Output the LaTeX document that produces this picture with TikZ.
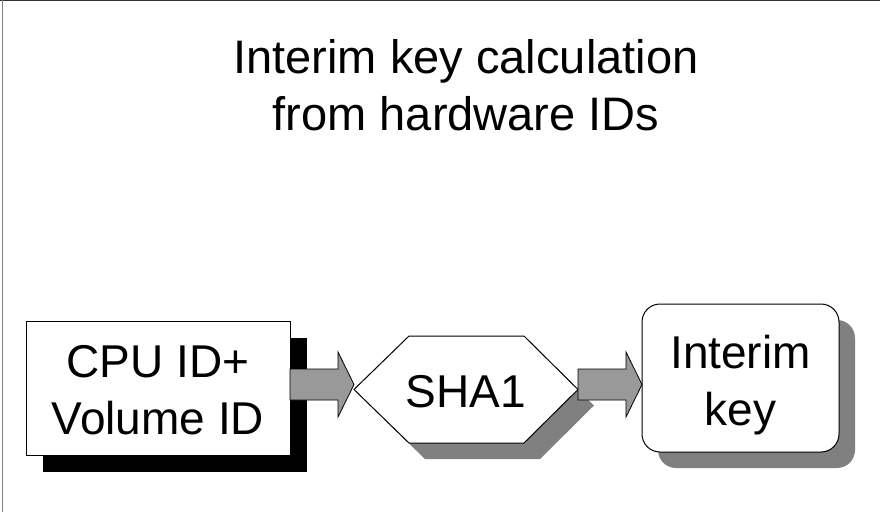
\documentclass[tikz,border=0pt]{standalone}
\usepackage{fontspec}
\setmainfont{Liberation Sans}
\usetikzlibrary{shadows}
\begin{document}
\begin{tikzpicture}[x=1pt,y=-1pt,
  titletext/.style={inner sep=0pt, anchor=base, font=\fontsize{47}{56}\selectfont},
  boxtext/.style={inner sep=0pt, anchor=base, font=\fontsize{46}{55}\selectfont},
  outline/.style={draw=black, line width=1pt, fill=white},
  blockarrow/.style={draw=black, line width=0.8pt, fill=black!40},
  greyshadow/.style={fill=black!50}
]
\useasboundingbox (0,0) rectangle (880,512);
\fill[white] (0,0) rectangle (880,512);
\draw[black!80, line width=1pt] (0,0.5) -- (880,0.5);
\draw[black!50, line width=1.5pt] (2.5,0) -- (2.5,512);

% title
\node[titletext] (t1) at (466,73) {Interim key calculation};
\node[titletext] (t2) at (466,130) {from hardware IDs};

% left box with black shadow
\fill[black] (43,338) rectangle (307,472);
\node[outline, rectangle, minimum width=264pt, minimum height=134pt, inner sep=0pt] (cpu) at (158,388) {};

% hexagon with grey shadow
\fill[greyshadow] (370,405.5) -- (425,352) -- (540,352) -- (594,405.5) -- (540,459) -- (425,459) -- cycle;
\draw[outline] (354,389.5) -- (409,336) -- (524,336) -- (578,389.5) -- (524,443) -- (409,443) -- cycle;
\coordinate (sha) at (466,389.5);

% rounded box with grey shadow
\fill[greyshadow, rounded corners=18pt] (658,320) rectangle (855,468);
\node[outline, rectangle, rounded corners=18pt, minimum width=197pt, minimum height=148pt, inner sep=0pt] (key) at (740.5,378) {};

% block arrows
\coordinate (a1s) at (290,384.5);
\coordinate (a1e) at (354,384.5);
\coordinate (a2s) at (578,384.5);
\coordinate (a2e) at (642,384.5);
\draw[blockarrow] (a1s) ++(0,-15.5) -- ++(48,0) -- ++(0,-17) -- (a1e) -- ++(-16,32.5) -- ++(0,-17) -- ++(-48,0) -- cycle;
\draw[blockarrow] (a2s) ++(0,-15.5) -- ++(48,0) -- ++(0,-17) -- (a2e) -- ++(-16,32.5) -- ++(0,-17) -- ++(-48,0) -- cycle;

% texts
\node[boxtext] (cpu1) at (158,377) {CPU ID+};
\node[boxtext] (cpu2) at (158,434) {Volume ID};
\node[boxtext] (shatext) at (466,407) {SHA1};
\node[boxtext] (key1) at (740.5,368) {Interim};
\node[boxtext] (key2) at (740.5,425) {key};
\end{tikzpicture}
\end{document}
